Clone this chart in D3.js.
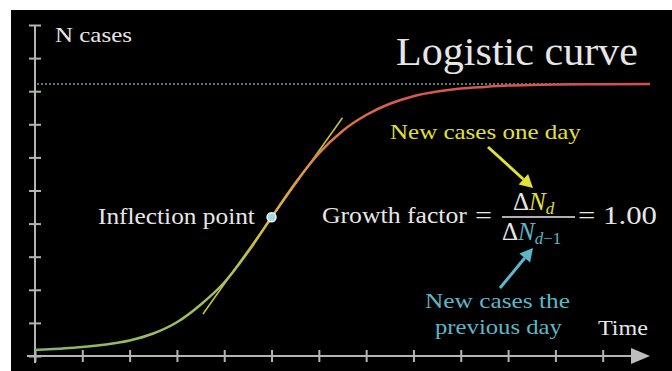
<!DOCTYPE html>
<html>
<head>
<meta charset="utf-8">
<script src="https://cdn.jsdelivr.net/npm/d3@7"></script>
</head>
<body style="margin:0">
<svg id="chart" width="672" height="371"></svg>
<script>
// logistic curve (time units, N units)
var timeValues = [0, 0.5, 1, 1.5, 2, 2.5, 3, 3.5, 4, 4.5, 5, 5.5, 6, 6.5, 7, 7.5, 8, 8.5, 9, 9.5, 10, 10.5, 11, 12, 13];
var caseValues = [0.18, 0.22, 0.27, 0.35, 0.47, 0.68, 1.02, 1.55, 2.22, 3.14, 4.19, 5.22, 6.12, 6.80, 7.28, 7.62, 7.85, 7.99, 8.08, 8.13, 8.17, 8.19, 8.20, 8.21, 8.22];
var carryingCapacity = 8.22;
var inflection = { t: 5.0, n: 4.19 };
var tangentT = [3.55, 6.5];
var tangentN = [1.27, 7.2];
var xTickValues = [0, 1, 2, 3, 4, 5, 6, 7, 8, 9, 10, 11, 12];
var yTickValues = [0, 1, 2, 3, 4, 5, 6, 7, 8, 9, 10];

var fontName = "Liberation Serif";
var svg = d3.select("#chart");

svg.append("rect")
  .attr("x", 11).attr("y", 10)
  .attr("width", 661).attr("height", 361)
  .attr("fill", "#000");

var x = d3.scaleLinear().domain([0, 13]).range([35, 650]);
var y = d3.scaleLinear().domain([0, 10]).range([356, 25]);

var axisColor = "#b4b4b4";

// x axis
var xAxis = d3.axisBottom(x).tickValues(xTickValues).tickFormat("").tickSizeOuter(0);
var gx = svg.append("g").attr("transform", "translate(0," + y(0) + ")").call(xAxis);
gx.select(".domain").attr("stroke", axisColor).attr("stroke-width", 2)
  .attr("d", "M" + (x(0) - 8) + ",0H" + (x(13) - 10));
gx.selectAll(".tick line").attr("stroke", axisColor).attr("stroke-width", 2)
  .attr("y1", -6).attr("y2", 6);

// arrow head
svg.append("path")
  .attr("d", "M" + (x(13) - 19) + "," + (y(0) - 8) + "L" + x(13) + "," + y(0) + "L" + (x(13) - 19) + "," + (y(0) + 8) + "Z")
  .attr("fill", "#bdbdbd");

// y axis
var yAxis = d3.axisLeft(y).tickValues(yTickValues).tickFormat("").tickSizeOuter(0);
var gy = svg.append("g").attr("transform", "translate(" + x(0) + ",0)").call(yAxis);
gy.select(".domain").attr("stroke", axisColor).attr("stroke-width", 2)
  .attr("d", "M0," + (y(0) + 7) + "V" + y(10));
gy.selectAll(".tick line").attr("stroke", axisColor).attr("stroke-width", 2)
  .attr("x1", -6).attr("x2", 6);

// asymptote
svg.append("line")
  .attr("x1", x(0) + 2).attr("x2", x(13))
  .attr("y1", y(carryingCapacity)).attr("y2", y(carryingCapacity))
  .attr("stroke", "#6f9fae").attr("stroke-width", 1.5)
  .attr("stroke-dasharray", "2,2");

// gradient along the curve
var defs = svg.append("defs");
var grad = defs.append("linearGradient")
  .attr("id", "curveGrad")
  .attr("gradientUnits", "userSpaceOnUse")
  .attr("x1", x(0)).attr("x2", x(13)).attr("y1", 0).attr("y2", 0);
[[0, "#86b566"], [0.3, "#a3c25c"], [0.385, "#dcb83c"], [0.46, "#e07f4c"], [0.6, "#d8594f"], [1, "#d2504b"]]
  .forEach(function (s) {
    grad.append("stop").attr("offset", s[0]).attr("stop-color", s[1]);
  });

var curveData = timeValues.map(function (t, i) { return { t: t, n: caseValues[i] }; });
var line = d3.line()
  .x(function (d) { return x(d.t); })
  .y(function (d) { return y(d.n); })
  .curve(d3.curveMonotoneX);

// tangent
svg.append("line")
  .attr("x1", x(tangentT[0])).attr("y1", y(tangentN[0]))
  .attr("x2", x(tangentT[1])).attr("y2", y(tangentN[1]))
  .attr("stroke", "#c4c046").attr("stroke-width", 1.6);

svg.append("path")
  .datum(curveData)
  .attr("d", line)
  .attr("fill", "none")
  .attr("stroke", "url(#curveGrad)")
  .attr("stroke-width", 2.5);

svg.append("circle")
  .attr("cx", x(inflection.t)).attr("cy", y(inflection.n))
  .attr("r", 4.5)
  .attr("fill", "#a3d8e2")
  .attr("stroke", "#eef7f8").attr("stroke-width", 1.5);

// texts
var white = "#e6e6e6";
var yellow = "#e4e03a";
var teal = "#5cb7c9";

// stretch horizontally to the width seen in the picture
function label(txt, px, py, size, color, len) {
  var g = svg.append("g");
  var t = g.append("text")
    .attr("x", 0).attr("y", 0)
    .attr("font-family", fontName)
    .attr("font-size", size)
    .attr("fill", color)
    .text(txt);
  var w = t.node().getComputedTextLength();
  var sx = len && w ? len / w : 1;
  g.attr("transform", "translate(" + px + "," + py + ") scale(" + sx + ",1)");
  return t;
}

label("N cases", 55, 42, 22, white, 77);
label("Logistic curve", 396, 65, 41, white, 242);
label("Inflection point", 98, 224, 23, white, 157);
label("Growth factor", 322, 223, 23, white, 145);
label("=", 475, 224, 26, white, 17);
label("= 1.00", 578, 224, 26, white, 79);
label("New cases one day", 390, 139, 20, yellow, 191);
label("New cases the", 425, 308, 20, teal, 145);
label("previous day", 435, 334, 20, teal, 127);
label("Time", 598, 335, 21, white, 50);

// fraction
svg.append("line")
  .attr("x1", 502).attr("x2", 575).attr("y1", 217).attr("y2", 217)
  .attr("stroke", "#b0b0b0").attr("stroke-width", 2);

var num = svg.append("text").attr("x", 513).attr("y", 210)
  .attr("font-family", fontName).attr("font-size", 25);
num.append("tspan").attr("fill", white).text("\u0394");
num.append("tspan").attr("fill", yellow).attr("font-style", "italic").text("N");
num.append("tspan").attr("fill", yellow).attr("font-style", "italic")
  .attr("font-size", 17).attr("dy", 4).text("d");

var den = svg.append("text").attr("x", 502).attr("y", 240)
  .attr("font-family", fontName).attr("font-size", 25);
den.append("tspan").attr("fill", white).text("\u0394");
den.append("tspan").attr("fill", teal).attr("font-style", "italic").text("N");
den.append("tspan").attr("fill", teal).attr("font-size", 17).attr("dy", 4)
  .attr("font-style", "italic").text("d");
den.append("tspan").attr("fill", teal).attr("font-size", 17).text("\u22121");

// arrows
function arrow(x1, y1, x2, y2, color) {
  var ang = Math.atan2(y2 - y1, x2 - x1);
  var hl = 13, hw = 7;
  var bx = x2 - hl * Math.cos(ang), by = y2 - hl * Math.sin(ang);
  svg.append("line")
    .attr("x1", x1).attr("y1", y1).attr("x2", bx).attr("y2", by)
    .attr("stroke", color).attr("stroke-width", 3);
  svg.append("path")
    .attr("d", "M" + x2 + "," + y2 +
      "L" + (bx + hw * Math.sin(ang)) + "," + (by - hw * Math.cos(ang)) +
      "L" + (bx - hw * Math.sin(ang)) + "," + (by + hw * Math.cos(ang)) + "Z")
    .attr("fill", color);
}
arrow(488, 147, 533, 188, yellow);
arrow(500, 288, 533, 248, teal);
</script>
</body>
</html>
